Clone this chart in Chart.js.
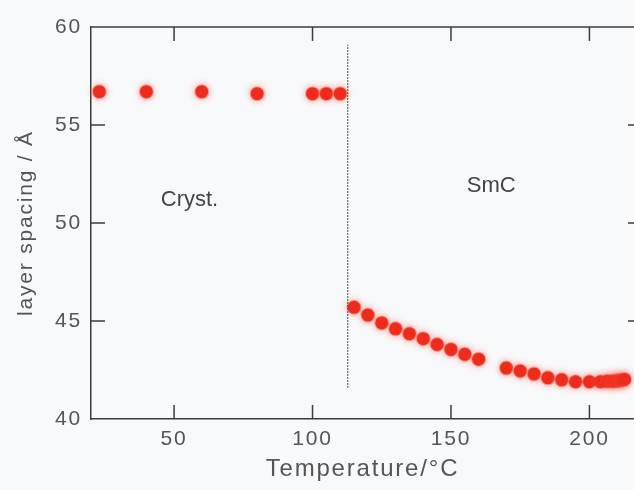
<!DOCTYPE html>
<html>
<head>
<meta charset="utf-8">
<script src="https://cdn.jsdelivr.net/npm/chart.js@4.4.1/dist/chart.umd.min.js"></script>
<style>
  html, body { margin: 0; padding: 0; background: #f8f9fb; }
  canvas { display: block; }
</style>
</head>
<body>
<canvas id="c" width="634" height="490"></canvas>
<script>
// ---- data ----
const crystTemps   = [23, 40, 60, 80, 100, 105, 110];
const crystSpacing = [56.7, 56.7, 56.7, 56.6, 56.6, 56.6, 56.6];

const smcTemps   = [115, 120, 125, 130, 135, 140, 145, 150, 155, 160,
                    170, 175, 180, 185, 190, 195, 200, 204, 206.5, 208.5, 210, 211.5, 212.7];
const smcSpacing = [45.7, 45.3, 44.9, 44.6, 44.35, 44.1, 43.8, 43.55, 43.3, 43.05,
                    42.6, 42.45, 42.3, 42.1, 42.0, 41.9, 41.9, 41.9, 41.92, 41.93, 41.95, 41.98, 42.02];

const transitionT = 112.7;
const transitionRange = [41.6, 59.1];

const xTickValues = [50, 100, 150, 200];
const yTickValues = [40, 45, 50, 55, 60];
const xRange = [20, 216.1];
const yRange = [40, 60];

const phaseLabels = [
  { text: 'Cryst.', x: 45.2, y: 51.2 },
  { text: 'SmC',    x: 155.7, y: 51.9 }
];

// ---- build datasets ----
const toXY = (xs, ys) => xs.map((x, i) => ({ x: x, y: ys[i] }));

const pointStyle = {
  pointRadius: 6.5,
  pointBackgroundColor: '#ee2a1c',
  pointBorderColor: 'rgba(238,60,40,0.35)',
  pointBorderWidth: 2,
  showLine: false,
  clip: false
};

const AXIS = '#3c3c3c';
const TEXT = '#555555';
const FONT = 'Liberation Sans, Arial, sans-serif';

const framePlugin = {
  id: 'frame',
  beforeDraw(chart) {
    const ctx = chart.ctx;
    ctx.save();
    ctx.fillStyle = '#f8f9fb';
    ctx.fillRect(0, 0, chart.width, chart.height);
    ctx.restore();
    ctx.letterSpacing = '1.8px';
  },
  beforeDatasetDraw(chart, args) {
    if (args.index > 0) {
      chart.ctx.save();
      chart.ctx.shadowColor = 'rgba(255,90,70,0.55)';
      chart.ctx.shadowBlur = 7;
    }
  },
  afterDatasetDraw(chart, args) {
    if (args.index > 0) {
      chart.ctx.restore();
    }
  },
  afterDraw(chart) {
    const ctx = chart.ctx;
    const a = chart.chartArea;
    const xs = chart.scales.x, ys = chart.scales.y;
    const TL = 14;
    const rightAxis = a.right + 8; // frame's right side lies just outside the picture
    ctx.save();
    ctx.strokeStyle = AXIS;
    ctx.lineWidth = 1.5;
    ctx.beginPath();
    ctx.moveTo(a.left, a.top);
    ctx.lineTo(a.right, a.top);
    xTickValues.forEach(v => {
      const px = xs.getPixelForValue(v);
      ctx.moveTo(px, a.top); ctx.lineTo(px, a.top + TL);
      ctx.moveTo(px, a.bottom); ctx.lineTo(px, a.bottom - TL);
    });
    yTickValues.slice(1, -1).forEach(v => {
      const py = ys.getPixelForValue(v);
      ctx.moveTo(a.left, py); ctx.lineTo(a.left + TL, py);
      ctx.moveTo(rightAxis, py); ctx.lineTo(rightAxis - TL, py);
    });
    ctx.stroke();
    ctx.letterSpacing = '0px';
    ctx.fillStyle = '#444';
    ctx.font = '22px ' + FONT;
    ctx.textAlign = 'left';
    ctx.textBaseline = 'middle';
    phaseLabels.forEach(l => {
      ctx.fillText(l.text, xs.getPixelForValue(l.x), ys.getPixelForValue(l.y));
    });
    ctx.restore();
  }
};

new Chart(document.getElementById('c'), {
  type: 'scatter',
  data: {
    datasets: [
      {
        type: 'line',
        data: [{ x: transitionT, y: transitionRange[0] }, { x: transitionT, y: transitionRange[1] }],
        borderColor: '#444',
        borderWidth: 1.3,
        borderDash: [1.5, 1.5],
        pointRadius: 0,
        fill: false
      },
      Object.assign({ data: toXY(crystTemps, crystSpacing) }, pointStyle),
      Object.assign({ data: toXY(smcTemps, smcSpacing) }, pointStyle)
    ]
  },
  options: {
    responsive: false,
    animation: false,
    devicePixelRatio: 1,
    layout: { autoPadding: false, padding: { top: 27, right: 0, left: 0, bottom: 0 } },
    plugins: { legend: { display: false }, tooltip: { enabled: false } },
    scales: {
      x: {
        type: 'linear',
        min: xRange[0], max: xRange[1],
        afterBuildTicks: s => { s.ticks = xTickValues.map(v => ({ value: v })); },
        afterFit: s => { s.height = 71; s.paddingLeft = 0; s.paddingRight = 0; },
        grid: { display: false, drawTicks: false },
        border: { display: true, color: AXIS, width: 1.5 },
        ticks: { font: { family: FONT, size: 21 }, color: TEXT, padding: 8, maxRotation: 0, autoSkip: false },
        title: {
          display: true, text: 'Temperature/°C', color: TEXT,
          font: { family: FONT, size: 24 }, padding: { top: 0, bottom: 6 }
        }
      },
      y: {
        type: 'linear',
        min: yRange[0], max: yRange[1],
        afterBuildTicks: s => { s.ticks = yTickValues.map(v => ({ value: v })); },
        afterFit: s => { s.width = 91; s.paddingTop = 0; s.paddingBottom = 0; },
        grid: { display: false, drawTicks: false },
        border: { display: true, color: AXIS, width: 1.5 },
        ticks: { font: { family: FONT, size: 21 }, color: TEXT, padding: 9 },
        title: {
          display: true, text: 'layer spacing / Å', color: TEXT,
          font: { family: FONT, size: 21 }, padding: { top: 14, bottom: 0 }
        }
      }
    }
  },
  plugins: [framePlugin]
});
</script>
</body>
</html>
